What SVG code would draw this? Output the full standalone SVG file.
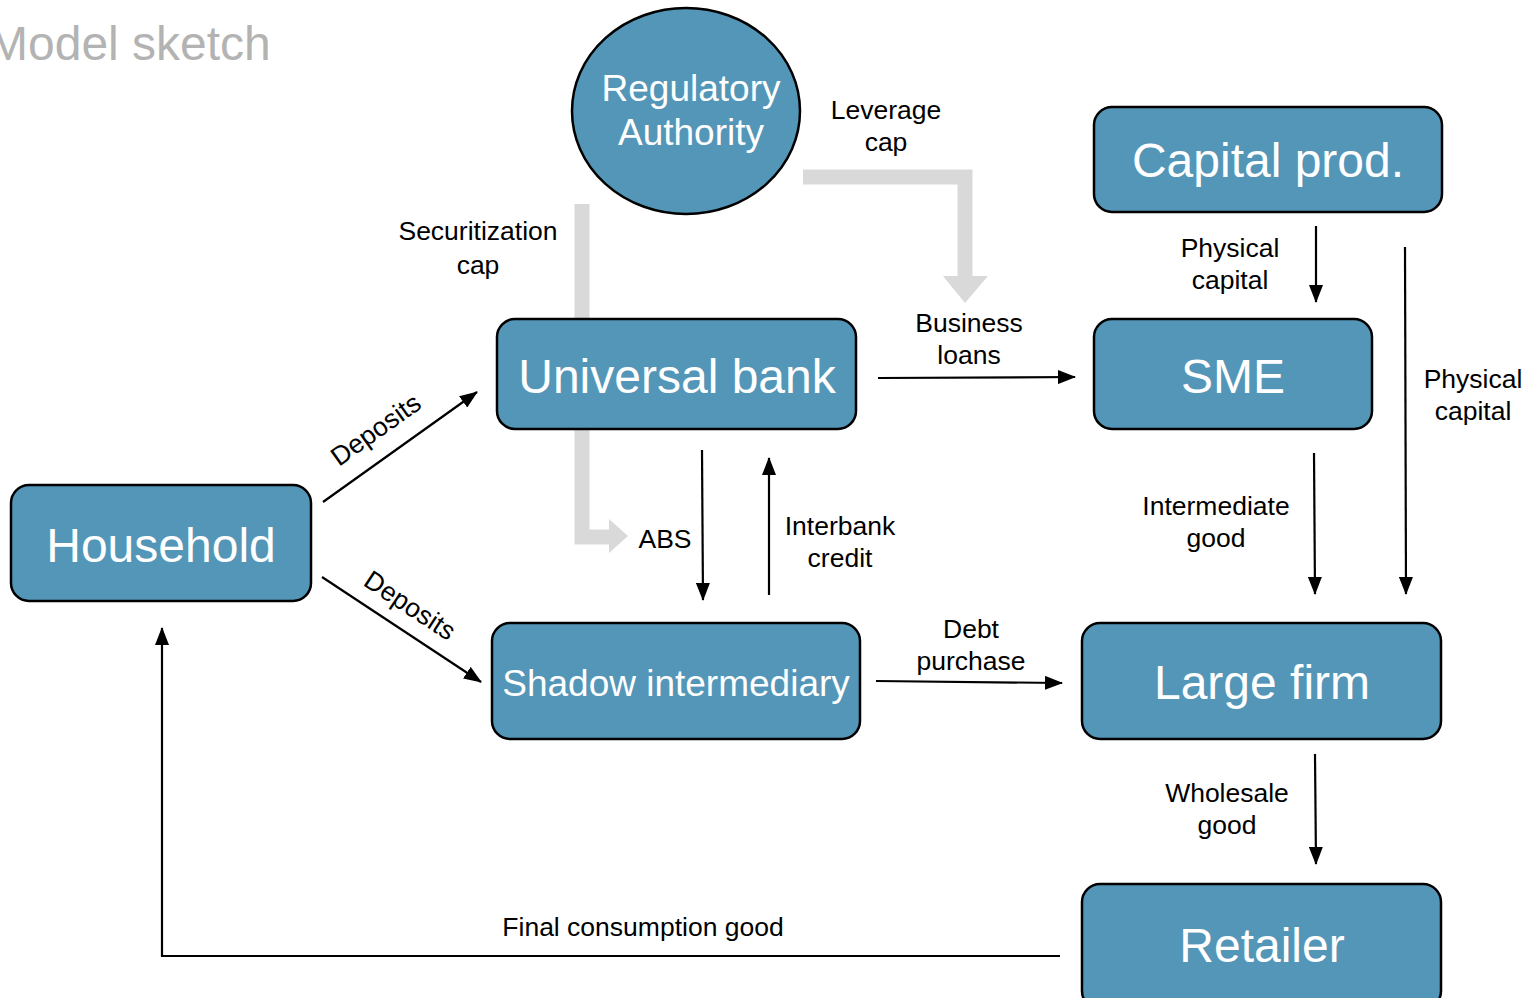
<svg xmlns="http://www.w3.org/2000/svg" width="1527" height="998" viewBox="0 0 1527 998">
<style>
.node{fill:#5496b8;stroke:#000;stroke-width:2.5}
.nt{fill:#fff;font-family:"Liberation Sans",Arial,sans-serif;text-anchor:middle}
.lb{fill:#000;font-family:"Liberation Sans",Arial,sans-serif;font-size:26.5px;text-anchor:middle}
.ln{fill:none;stroke:#000;stroke-width:2.2}
.gr{fill:none;stroke:#d9d9d9;stroke-width:15}
</style>
<defs>
<marker id="ah" markerUnits="userSpaceOnUse" markerWidth="18" markerHeight="14" viewBox="0 0 18 14" refX="17" refY="7" orient="auto">
<path d="M0,0 L18,7 L0,14 Z" fill="#000"/>
</marker>
</defs>
<rect width="1527" height="998" fill="#fff"/>
<text x="-12" y="60" font-family="'Liberation Sans',Arial,sans-serif" font-size="48" fill="#b3b3b3">Model sketch</text>
<g id="connectors">
<polyline class="gr" points="803,177 965,177 965,277"/>
<polygon points="943,276 988,276 965,303" fill="#d9d9d9"/>
<polyline class="gr" points="582,204 582,537 610,537"/>
<polygon points="609,519 628,536 609,553" fill="#d9d9d9"/>
<line class="ln" x1="323" y1="502" x2="477" y2="392" marker-end="url(#ah)"/>
<line class="ln" x1="322" y1="577" x2="481" y2="682" marker-end="url(#ah)"/>
<line class="ln" x1="878" y1="378" x2="1075" y2="377" marker-end="url(#ah)"/>
<line class="ln" x1="702" y1="450" x2="703" y2="600" marker-end="url(#ah)"/>
<line class="ln" x1="769" y1="595" x2="769" y2="458" marker-end="url(#ah)"/>
<line class="ln" x1="876" y1="681" x2="1062" y2="683" marker-end="url(#ah)"/>
<line class="ln" x1="1316" y1="226" x2="1316" y2="302" marker-end="url(#ah)"/>
<line class="ln" x1="1405" y1="247" x2="1406" y2="594" marker-end="url(#ah)"/>
<line class="ln" x1="1314" y1="453" x2="1315" y2="594" marker-end="url(#ah)"/>
<line class="ln" x1="1315" y1="754" x2="1316" y2="864" marker-end="url(#ah)"/>
<polyline class="ln" points="1060,956 162,956 162,628" marker-end="url(#ah)"/>
<text class="lb" x="886" y="119">Leverage</text>
<text class="lb" x="886" y="151">cap</text>
<text class="lb" x="478" y="240">Securitization</text>
<text class="lb" x="478" y="274">cap</text>
<text class="lb" transform="translate(381,437) rotate(-35.5)">Deposits</text>
<text class="lb" transform="translate(405,613) rotate(33.4)">Deposits</text>
<text class="lb" x="969" y="332">Business</text>
<text class="lb" x="969" y="364">loans</text>
<text class="lb" x="665" y="548">ABS</text>
<text class="lb" x="840" y="535">Interbank</text>
<text class="lb" x="840" y="567">credit</text>
<text class="lb" x="971" y="638">Debt</text>
<text class="lb" x="971" y="670">purchase</text>
<text class="lb" x="1230" y="257">Physical</text>
<text class="lb" x="1230" y="289">capital</text>
<text class="lb" x="1473" y="388">Physical</text>
<text class="lb" x="1473" y="420">capital</text>
<text class="lb" x="1216" y="515">Intermediate</text>
<text class="lb" x="1216" y="547">good</text>
<text class="lb" x="1227" y="802">Wholesale</text>
<text class="lb" x="1227" y="834">good</text>
<text class="lb" x="643" y="936">Final consumption good</text>
</g>
<g id="regulatory">
<ellipse class="node" cx="686" cy="111" rx="114" ry="103"/>
<text class="nt" x="691" y="101" font-size="37">Regulatory</text>
<text class="nt" x="691" y="145" font-size="37">Authority</text>
</g>
<g id="capital">
<rect class="node" x="1094" y="107" width="348" height="105" rx="18"/>
<text class="nt" x="1268" y="177" font-size="48">Capital prod.</text>
</g>
<g id="universal">
<rect class="node" x="497" y="319" width="359" height="110" rx="18"/>
<text class="nt" x="677" y="393" font-size="48">Universal bank</text>
</g>
<g id="sme">
<rect class="node" x="1094" y="319" width="278" height="110" rx="18"/>
<text class="nt" x="1233" y="393" font-size="48">SME</text>
</g>
<g id="household">
<rect class="node" x="11" y="485" width="300" height="116" rx="18"/>
<text class="nt" x="161" y="562" font-size="48">Household</text>
</g>
<g id="shadow">
<rect class="node" x="492" y="623" width="368" height="116" rx="18"/>
<text class="nt" x="676" y="696" font-size="37">Shadow intermediary</text>
</g>
<g id="largefirm">
<rect class="node" x="1082" y="623" width="359" height="116" rx="18"/>
<text class="nt" x="1262" y="699" font-size="48">Large firm</text>
</g>
<g id="retailer">
<rect class="node" x="1082" y="884" width="359" height="125" rx="18"/>
<text class="nt" x="1262" y="962" font-size="48">Retailer</text>
</g>
</svg>
